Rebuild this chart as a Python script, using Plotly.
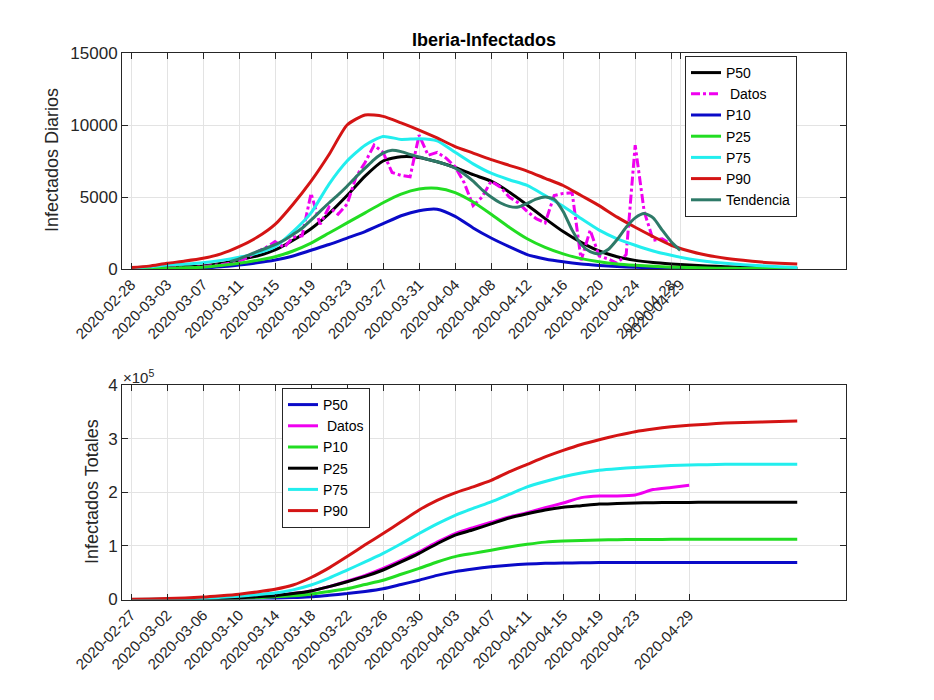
import pandas as pd
import plotly.graph_objects as go

# ---------------- data ----------------
top_start = "2020-02-28"   # first day of the daily series
bot_start = "2020-02-27"   # first day of the cumulative series

# day offsets at which the smooth curves were read
curve_days = list(range(0, 75, 2))

daily_p50 = [0, 40, 90, 150, 210, 380, 625, 900, 1320, 2000, 2800, 3850, 5100, 6450, 7500, 7800,
             7750, 7450, 7050, 6550, 6100, 5350, 4450, 3500, 2600, 1850, 1250, 850, 600, 450, 350,
             270, 210, 160, 120, 90, 70, 60]
daily_p10 = [0, 10, 20, 40, 70, 150, 280, 430, 625, 900, 1300, 1700, 2150, 2600, 3150, 3700, 4050,
             4150, 3650, 2850, 2150, 1550, 1000, 700, 500, 350, 250, 170, 120, 80, 60, 45, 35, 25,
             20, 15, 12, 10]
daily_p25 = [0, 20, 50, 80, 120, 250, 400, 600, 850, 1250, 1800, 2500, 3200, 3900, 4600, 5200, 5550,
             5600, 5300, 4650, 3800, 2900, 2100, 1500, 1050, 720, 500, 350, 260, 190, 130, 100, 70,
             50, 40, 30, 25, 20]
daily_p75 = [80, 150, 280, 350, 440, 600, 820, 1100, 1550, 2600, 3900, 5900, 7500, 8600, 9200, 9000,
             9050, 8900, 8100, 7300, 6650, 6200, 5800, 5100, 4350, 3500, 2700, 2100, 1650, 1250, 950,
             700, 520, 400, 300, 220, 160, 110]
daily_p90 = [100, 200, 400, 550, 740, 1050, 1550, 2200, 3100, 4500, 6100, 7950, 10000, 10700, 10600,
             10150, 9650, 9100, 8500, 8050, 7600, 7200, 6800, 6300, 5800, 5100, 4400, 3600, 2900,
             2250, 1650, 1250, 950, 750, 600, 480, 400, 340]

# observed daily data, one value per day from 2020-02-28 to 2020-04-29
datos_daily = [0, 0, 20, 30, 50, 80, 60, 100, 150, 200,
               300, 400, 550, 800, 1200, 1500, 1900, 1500, 2200, 2300,
               5250, 3100, 4300, 3800, 4500, 6400, 7400, 8600, 8100, 6700,
               6500, 6400, 9300, 7900, 8100, 7700, 7100, 6000, 4400, 5000,
               6100, 5700, 5000, 4600, 4000, 3500, 3200, 5100, 5250, 5300,
               600, 2700, 900, 700, 400, 1000, 8600, 4000, 2000, 2100,
               1700, 1400]

# trend, one value per day from 2020-03-10 to 2020-04-29
tend_first_day = 11
tendencia = [510, 700, 950, 1200, 1440, 1700, 2000, 2400, 2830, 3400,
             4000, 4600, 5150, 5750, 6400, 7000, 7600, 8050, 8250, 8150,
             7950, 7780, 7600, 7450, 7250, 7000, 6600, 6100, 5500, 5000,
             4600, 4350, 4300, 4550, 4850, 5000, 4850, 4000, 2700, 1700,
             1200, 1050, 1350, 2050, 2900, 3550, 3850, 3550, 2700, 1900,
             1300]

# cumulative totals (units of 1e5)
tot_p50 = [0, 0, 0, 0.001, 0.002, 0.005, 0.01, 0.015, 0.02, 0.035, 0.05, 0.08, 0.11, 0.15, 0.2,
           0.28, 0.36, 0.45, 0.52, 0.57, 0.61, 0.64, 0.66, 0.675, 0.68, 0.685, 0.688, 0.69, 0.69,
           0.69, 0.69, 0.69, 0.69, 0.69, 0.69, 0.69, 0.69, 0.69]
tot_p10 = [0, 0, 0.001, 0.002, 0.004, 0.01, 0.02, 0.03, 0.05, 0.07, 0.1, 0.15, 0.2, 0.28, 0.36,
           0.47, 0.58, 0.7, 0.8, 0.86, 0.92, 0.98, 1.03, 1.07, 1.09, 1.1, 1.11, 1.115, 1.12, 1.12,
           1.122, 1.123, 1.124, 1.125, 1.125, 1.125, 1.125, 1.125]
tot_p25 = [0, 0, 0.002, 0.004, 0.007, 0.015, 0.03, 0.05, 0.07, 0.11, 0.16, 0.24, 0.33, 0.43, 0.55,
           0.7, 0.86, 1.04, 1.2, 1.3, 1.41, 1.52, 1.6, 1.67, 1.72, 1.75, 1.78, 1.79, 1.8, 1.805,
           1.81, 1.81, 1.815, 1.815, 1.815, 1.815, 1.815, 1.815]
tot_p75 = [0, 0.005, 0.01, 0.015, 0.02, 0.04, 0.06, 0.09, 0.12, 0.18, 0.27, 0.4, 0.55, 0.7, 0.86,
           1.04, 1.23, 1.41, 1.57, 1.7, 1.82, 1.96, 2.1, 2.2, 2.29, 2.36, 2.41, 2.44, 2.46, 2.48,
           2.5, 2.51, 2.515, 2.52, 2.52, 2.52, 2.52, 2.52]
tot_p90 = [0.005, 0.01, 0.02, 0.03, 0.045, 0.07, 0.1, 0.14, 0.19, 0.27, 0.41, 0.59, 0.8, 1.02, 1.23,
           1.45, 1.67, 1.85, 1.99, 2.1, 2.22, 2.38, 2.52, 2.66, 2.78, 2.89, 2.98, 3.06, 3.13, 3.18,
           3.22, 3.25, 3.27, 3.29, 3.3, 3.31, 3.32, 3.33]
datos_days = list(range(0, 63, 2))
tot_datos = [0, 0, 0.001, 0.002, 0.005, 0.01, 0.02, 0.04, 0.07, 0.11, 0.16, 0.24, 0.34, 0.45, 0.58,
             0.73, 0.89, 1.07, 1.23, 1.34, 1.44, 1.54, 1.62, 1.71, 1.8, 1.9, 1.93, 1.93, 1.95, 2.05,
             2.09, 2.13]

top_ticks = ["2020-02-28", "2020-03-03", "2020-03-07", "2020-03-11", "2020-03-15", "2020-03-19",
             "2020-03-23", "2020-03-27", "2020-03-31", "2020-04-04", "2020-04-08", "2020-04-12",
             "2020-04-16", "2020-04-20", "2020-04-24", "2020-04-28", "2020-04-29"]
bot_ticks = ["2020-02-27", "2020-03-02", "2020-03-06", "2020-03-10", "2020-03-14", "2020-03-18",
             "2020-03-22", "2020-03-26", "2020-03-30", "2020-04-03", "2020-04-07", "2020-04-11",
             "2020-04-15", "2020-04-19", "2020-04-23", "2020-04-29"]


def to_dates(start, days):
    s = pd.Timestamp(start)
    return [(s + pd.Timedelta(days=d)).strftime("%Y-%m-%d") for d in days]


# ---------------- styling ----------------
C_BLACK = "#000000"
C_MAG = "#F000F0"
C_BLUE = "#0A0AC8"
C_GREEN = "#22DD22"
C_CYAN = "#22EEEE"
C_RED = "#D41414"
C_TEAL = "#2E7A68"
LW = 3
FONT = "Liberation Sans, Arial, sans-serif"
TXT = "#262626"

fig = go.Figure()

x_top = to_dates(top_start, curve_days)
x_datos = to_dates(top_start, range(len(datos_daily)))
x_tend = to_dates(top_start, range(tend_first_day, tend_first_day + len(tendencia)))


def line(x, y, name, color, xa, ya, legend, dash="solid", shape="spline"):
    kw = dict(color=color, width=LW, dash=dash, shape=shape)
    if shape == "spline":
        kw["smoothing"] = 0.6
    fig.add_trace(go.Scatter(x=x, y=y, name=name, mode="lines", xaxis=xa, yaxis=ya,
                             legend=legend, line=kw))


line(x_top, daily_p50, "P50", C_BLACK, "x", "y", "legend")
line(x_datos, datos_daily, " Datos", C_MAG, "x", "y", "legend", dash="dashdot", shape="linear")
line(x_top, daily_p10, "P10", C_BLUE, "x", "y", "legend")
line(x_top, daily_p25, "P25", C_GREEN, "x", "y", "legend")
line(x_top, daily_p75, "P75", C_CYAN, "x", "y", "legend")
line(x_top, daily_p90, "P90", C_RED, "x", "y", "legend")
line(x_tend, tendencia, "Tendencia", C_TEAL, "x", "y", "legend")

x_bot = to_dates(bot_start, curve_days)
x_bot_d = to_dates(bot_start, datos_days)
line(x_bot, tot_p50, "P50", C_BLUE, "x2", "y2", "legend2")
line(x_bot_d, tot_datos, " Datos", C_MAG, "x2", "y2", "legend2")
line(x_bot, tot_p10, "P10", C_GREEN, "x2", "y2", "legend2")
line(x_bot, tot_p25, "P25", C_BLACK, "x2", "y2", "legend2")
line(x_bot, tot_p75, "P75", C_CYAN, "x2", "y2", "legend2")
line(x_bot, tot_p90, "P90", C_RED, "x2", "y2", "legend2")

W, H = 934, 700
OFF = 8  # page body margin


def px(x):
    return (x - OFF) / W


def py(y):
    return 1 - (y - OFF) / H


XD = [px(122), px(846)]
axis_common = dict(showline=True, linecolor=TXT, linewidth=1, mirror="ticks", ticks="inside",
                   ticklen=6, tickcolor=TXT, showgrid=True, gridcolor="#E3E3E3", gridwidth=1,
                   zeroline=False, automargin=False)
xfont = dict(family=FONT, size=15, color=TXT)
yfont = dict(family=FONT, size=17, color=TXT)
legfont = dict(family=FONT, size=14, color="#000000")

fig.update_layout(
    template="none",
    width=W, height=H, margin=dict(l=0, r=0, t=0, b=0, pad=0, autoexpand=False),
    paper_bgcolor="white", plot_bgcolor="white",
    font=dict(family=FONT, color=TXT),
    xaxis=dict(domain=XD, anchor="y", type="date",
               range=["2020-02-27", "2020-05-17 10:00"],
               tickmode="array", tickvals=top_ticks, ticktext=top_ticks, tickangle=-45,
               tickfont=xfont, **axis_common),
    yaxis=dict(domain=[py(269), py(53)], anchor="x", range=[0, 15000],
               tickmode="array", tickvals=[0, 5000, 10000, 15000],
               ticktext=["0", "5000", "10000", "15000"], tickfont=yfont, **axis_common),
    xaxis2=dict(domain=XD, anchor="y2", type="date",
                range=["2020-02-26", "2020-05-16 10:00"],
                tickmode="array", tickvals=bot_ticks, ticktext=bot_ticks, tickangle=-45,
                tickfont=xfont, **axis_common),
    yaxis2=dict(domain=[py(599.5), py(385)], anchor="x2", range=[0, 4],
                tickmode="array", tickvals=[0, 1, 2, 3, 4],
                ticktext=["0", "1", "2", "3", "4"], tickfont=yfont, **axis_common),
    legend=dict(x=px(685), y=py(56), xanchor="left", yanchor="top",
                bgcolor="white", bordercolor="#262626", borderwidth=1,
                font=legfont, tracegroupgap=0),
    legend2=dict(x=px(282), y=py(388), xanchor="left", yanchor="top",
                 bgcolor="white", bordercolor="#262626", borderwidth=1,
                 font=legfont, tracegroupgap=0),
    showlegend=True,
    annotations=[
        dict(text="<b>Iberia-Infectados</b>", x=px(484), y=py(40), xref="paper", yref="paper",
             showarrow=False, xanchor="center", yanchor="middle",
             font=dict(family=FONT, size=18, color="#000000")),
        dict(text="Infectados Diarios", x=px(52), y=py(160), xref="paper", yref="paper",
             showarrow=False, textangle=-90, xanchor="center", yanchor="middle",
             font=dict(family=FONT, size=18, color=TXT)),
        dict(text="Infectados Totales", x=px(92), y=py(492), xref="paper", yref="paper",
             showarrow=False, textangle=-90, xanchor="center", yanchor="middle",
             font=dict(family=FONT, size=18, color=TXT)),
        dict(text="×10<sup>5</sup>", x=px(121), y=py(376), xref="paper", yref="paper",
             showarrow=False, xanchor="left", yanchor="middle",
             font=dict(family=FONT, size=15, color=TXT)),
    ],
)

fig.write_html("out.html")
